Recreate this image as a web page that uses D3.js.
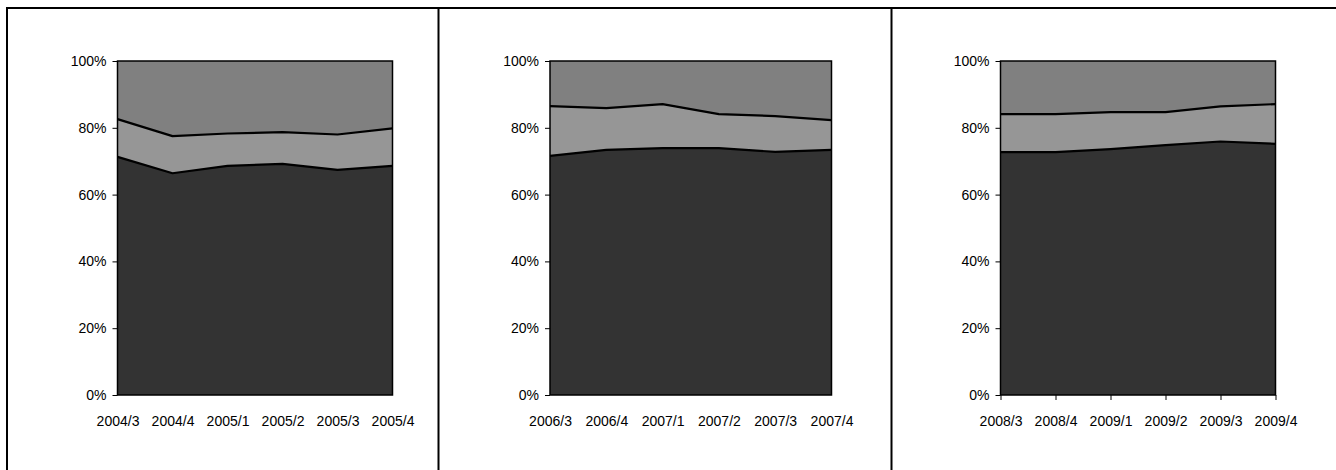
<!DOCTYPE html>
<html>
<head>
<meta charset="utf-8">
<script src="https://cdn.jsdelivr.net/npm/d3@7/dist/d3.min.js"></script>
<style>
  html, body { margin: 0; padding: 0; background: #fff; }
  svg { display: block; font-family: "Liberation Sans", Arial, sans-serif; }
  .axis text { font-size: 14px; fill: #000; font-family: "Liberation Sans", Arial, sans-serif; }
</style>
</head>
<body>
<svg id="chart" width="1336" height="470"></svg>
<script>
// Quarterly share (percent) per period; each panel has a lower band and an upper cumulative line.
const quarters1 = ["2004/3", "2004/4", "2005/1", "2005/2", "2005/3", "2005/4"];
const quarters2 = ["2006/3", "2006/4", "2007/1", "2007/2", "2007/3", "2007/4"];
const quarters3 = ["2008/3", "2008/4", "2009/1", "2009/2", "2009/3", "2009/4"];

// Cumulative level of the bottom band
const lower1 = [71.3, 66.4, 68.6, 69.2, 67.4, 68.6];
const lower2 = [71.6, 73.4, 73.9, 73.9, 72.8, 73.4];
const lower3 = [72.7, 72.7, 73.6, 74.8, 75.9, 75.2];

// Cumulative level of the middle band (bottom + middle)
const upper1 = [82.6, 77.5, 78.3, 78.7, 78.0, 79.8];
const upper2 = [86.5, 85.9, 87.1, 84.1, 83.5, 82.3];
const upper3 = [84.1, 84.1, 84.7, 84.7, 86.4, 87.1];

const yTicks = [0, 20, 40, 60, 80, 100];

const panels = [
  { cats: quarters1, lower: lower1, upper: upper1, x0: 117.5, x1: 392.5, xTicks: false },
  { cats: quarters2, lower: lower2, upper: upper2, x0: 550, x1: 831.5, xTicks: false },
  { cats: quarters3, lower: lower3, upper: upper3, x0: 1000.5, x1: 1275.5, xTicks: true }
];

const svg = d3.select("#chart");
const yTop = 61, yBottom = 395;
const y = d3.scaleLinear().domain([0, 100]).range([yBottom, yTop]);

const colTop = "#808080", colMid = "#969696", colLow = "#333333";

// Outer frame and panel dividers
const frame = svg.append("g").attr("stroke", "#000").attr("stroke-width", 2).attr("fill", "none");
frame.append("line").attr("x1", 7).attr("x2", 1336).attr("y1", 8).attr("y2", 8);
frame.append("line").attr("x1", 7).attr("x2", 7).attr("y1", 7).attr("y2", 470);
frame.append("line").attr("x1", 438.5).attr("x2", 438.5).attr("y1", 8).attr("y2", 470);
frame.append("line").attr("x1", 891.5).attr("x2", 891.5).attr("y1", 8).attr("y2", 470);

panels.forEach(p => {
  const x = d3.scalePoint().domain(p.cats).range([p.x0, p.x1]);
  const g = svg.append("g");

  const rows = p.cats.map((c, i) => ({ c, lo: p.lower[i], hi: p.upper[i] }));

  // Top band fills the rest up to 100%
  g.append("path")
    .datum(rows)
    .attr("fill", colTop)
    .attr("d", d3.area().x(d => x(d.c)).y0(d => y(d.hi)).y1(() => y(100)));

  g.append("path")
    .datum(rows)
    .attr("fill", colMid)
    .attr("d", d3.area().x(d => x(d.c)).y0(d => y(d.lo)).y1(d => y(d.hi)));

  g.append("path")
    .datum(rows)
    .attr("fill", colLow)
    .attr("d", d3.area().x(d => x(d.c)).y0(() => y(0)).y1(d => y(d.lo)));

  // Band boundaries
  const line = key => d3.line().x(d => x(d.c)).y(d => y(d[key]));
  g.append("path").datum(rows).attr("fill", "none").attr("stroke", "#000")
    .attr("stroke-width", 2.2).attr("stroke-linejoin", "round").attr("d", line("lo"));
  g.append("path").datum(rows).attr("fill", "none").attr("stroke", "#000")
    .attr("stroke-width", 2.2).attr("stroke-linejoin", "round").attr("d", line("hi"));

  // Plot border
  g.append("rect")
    .attr("x", p.x0).attr("y", yTop)
    .attr("width", p.x1 - p.x0).attr("height", yBottom - yTop)
    .attr("fill", "none").attr("stroke", "#000").attr("stroke-width", 1.5);

  // Y axis
  const yAxis = d3.axisLeft(y).tickValues(yTicks).tickSize(5).tickPadding(6)
    .tickFormat(d => d + "%");
  const ya = g.append("g").attr("class", "axis")
    .attr("transform", `translate(${p.x0},0)`).call(yAxis)
    .attr("font-size", null).attr("font-family", null);
  ya.select(".domain").remove();
  ya.selectAll("line").attr("stroke", "#000");

  // X axis
  const xAxis = d3.axisBottom(x).tickSize(p.xTicks ? 5 : 0).tickPadding(p.xTicks ? 16 : 21);
  const xa = g.append("g").attr("class", "axis")
    .attr("transform", `translate(0,${yBottom})`).call(xAxis)
    .attr("font-size", null).attr("font-family", null);
  xa.select(".domain").remove();
  xa.selectAll("line").attr("stroke", "#000");
});
</script>
</body>
</html>
